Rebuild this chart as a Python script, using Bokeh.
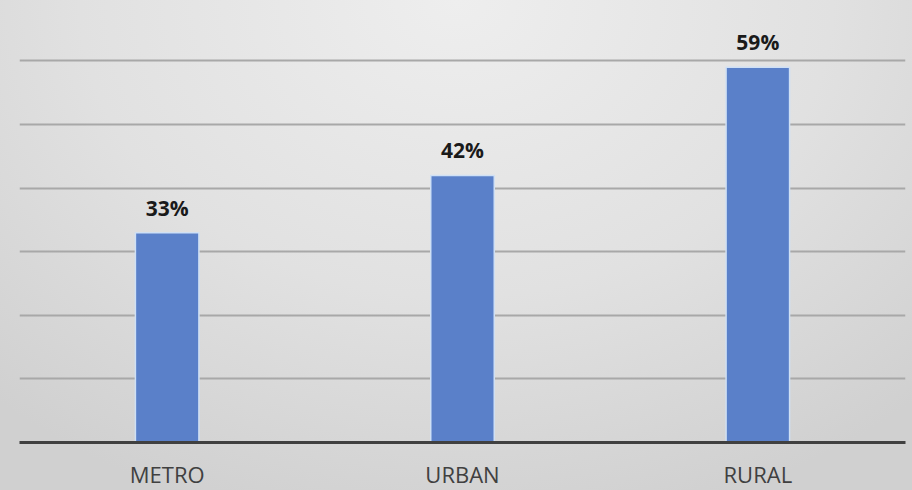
from bokeh.plotting import figure
from bokeh.models import ColumnDataSource, FixedTicker, InlineStyleSheet, Range1d
from bokeh.core.properties import value
from bokeh.embed import file_html
from bokeh.resources import INLINE

categories = ["METRO", "URBAN", "RURAL"]
shares = [0.33, 0.42, 0.59]
share_labels = ["33%", "42%", "59%"]
grid_ticks = [0.1, 0.2, 0.3, 0.4, 0.5, 0.6]

src = ColumnDataSource(dict(cat=categories, val=shares, lab=share_labels))

p = figure(x_range=categories, y_range=Range1d(0, 0.695),
           frame_width=886, frame_height=442,
           output_backend="svg", toolbar_location=None,
           min_border_left=19, min_border_right=7, min_border_top=0, min_border_bottom=48)

p.background_fill_color = None
p.border_fill_color = None
p.outline_line_color = None
p.stylesheets = [InlineStyleSheet(css=":host { background: radial-gradient(ellipse 75% 110% at 50% 0%, #eeeeee 0%, #e1e1e1 55%, #d0d0d0 100%); }")]

p.vbar(x="cat", top="val", width=0.215, source=src,
       fill_color="#5A80C9", line_color="#CFE0F5", line_width=1.5)

p.text(x="cat", y="val", text="lab", source=src, text_align="center",
       text_baseline="alphabetic", y_offset=-25,
       text_font=value("Open Sans"), text_font_style="bold",
       text_font_size="21px", text_color="#1a1a1a")

p.yaxis.ticker = FixedTicker(ticks=grid_ticks)
p.yaxis.visible = False
p.ygrid.grid_line_color = "#a8a8a8"
p.ygrid.grid_line_width = 2
p.xgrid.grid_line_color = None

p.xaxis.axis_line_color = "#404040"
p.xaxis.axis_line_width = 3
p.xaxis.major_tick_line_color = None
p.xaxis.minor_tick_line_color = None
p.xaxis.major_label_text_font = "Open Sans"
p.xaxis.major_label_text_font_size = "22px"
p.xaxis.major_label_text_color = "#404040"
p.xaxis.major_label_standoff = 10

open("out.html", "w").write(file_html(p, INLINE))
